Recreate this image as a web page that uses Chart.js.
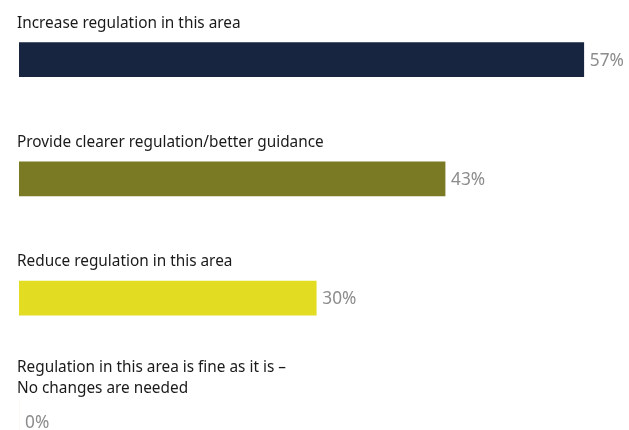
<!DOCTYPE html>
<html>
<head>
<meta charset="utf-8">
<script src="https://cdn.jsdelivr.net/npm/chart.js@4"></script>
<style>
  html, body { margin: 0; padding: 0; background: #fff; overflow: hidden; }
  #wrap { width: 629px; height: 477px; }
</style>
</head>
<body>
<div id="wrap"><canvas id="regulation" width="629" height="477"></canvas></div>
<script>
// answers and their shares (%)
const answers = [
    ['Increase regulation in this area'],
    ['Provide clearer regulation/better guidance'],
    ['Reduce regulation in this area'],
    ['Regulation in this area is fine as it is \u2013', 'No changes are needed']
];
const shares = [57, 43, 30, 0];
const barColors = ['#172540', '#7a7a25', '#e2dd23', '#f1edd0'];

// slightly squeezed text to mimic the narrow font of the original
function drawNarrow(ctx, text, x, y, squeeze) {
    ctx.save();
    ctx.translate(x, y);
    ctx.scale(squeeze, 1);
    ctx.textAlign = 'left';
    ctx.fillText(text, 0, 0);
    ctx.restore();
}

const labelPlugin = {
    id: 'barLabels',
    afterDatasetsDraw(chart) {
        const ctx = chart.ctx;
        const meta = chart.getDatasetMeta(0);
        ctx.save();
        meta.data.forEach((bar, i) => {
            const top = bar.y - bar.height / 2;
            const lines = answers[i];
            const lastBase = top - 15 + (lines.length - 1) * 8;
            ctx.font = '16px "Noto Sans"';
            ctx.fillStyle = '#1a1a1a';
            ctx.textBaseline = 'alphabetic';
            lines.forEach((line, j) => {
                drawNarrow(ctx, line, 17, lastBase - (lines.length - 1 - j) * 21, 0.96);
            });
            ctx.font = '18px "Noto Sans"';
            ctx.fillStyle = '#8c8c8c';
            ctx.textBaseline = 'middle';
            // the empty bar's label sits a little lower in the original
            const dy = shares[i] === 0 ? 5 : 1;
            drawNarrow(ctx, shares[i] + '%', bar.x + 6, bar.y + dy, 0.96);
        });
        ctx.restore();
    }
};

const ctx = document.getElementById('regulation').getContext('2d');
const chart = new Chart(ctx, {
    type: 'bar',
    data: {
        labels: answers,
        datasets: [{
            data: shares,
            backgroundColor: barColors,
            barThickness: 34
        }]
    },
    options: {
        indexAxis: 'y',
        responsive: false,
        animation: false,
        layout: { padding: { left: 19, right: 15.5, top: 0, bottom: 0 } },
        scales: {
            x: { display: false, min: 0, max: 60 },
            y: { display: false }
        },
        plugins: {
            legend: { display: false },
            tooltip: { enabled: false }
        }
    },
    plugins: [labelPlugin]
});
</script>
</body>
</html>
